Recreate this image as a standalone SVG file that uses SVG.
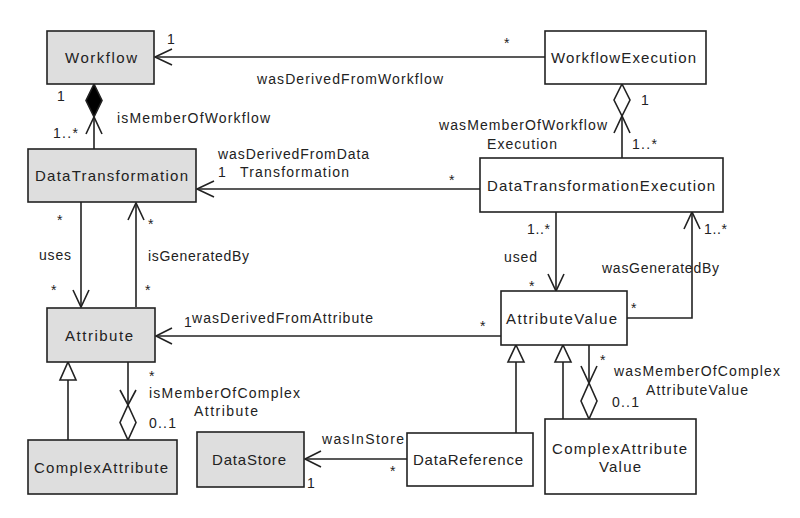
<svg xmlns="http://www.w3.org/2000/svg" width="800" height="518" viewBox="0 0 800 518">
<style>
.box{stroke:#222;stroke-width:1.6}
.g{fill:#dedede}
.w{fill:#fff}
.bl{font-family:"Liberation Sans",Arial,sans-serif;font-size:15px;fill:#222}
.el{font-family:"Liberation Sans",Arial,sans-serif;font-size:14px;fill:#222}
.ln{fill:none;stroke:#222;stroke-width:1.6}
.hd{fill:#fff;stroke:#222;stroke-width:1.6}
.fd{fill:#000;stroke:#222;stroke-width:1.6}
</style>
<rect width="800" height="518" fill="#fff"/>
<g id="connectors">
  <g id="wasDerivedFromWorkflow">
    <path class="ln" d="M545,57 H155"/>
    <path class="ln" d="M172,49 L155,57 L172,65"/>
  </g>
  <g id="isMemberOfWorkflow">
    <path class="ln" d="M94,149 V117"/>
    <path class="fd" d="M94,84 L102,100.5 L94,117 L86,100.5 Z"/>
    <path class="ln" d="M86,134 L94,117 L102,134"/>
  </g>
  <g id="wasDerivedFromDataTransformation">
    <path class="ln" d="M480,189 H197"/>
    <path class="ln" d="M214,181 L197,189 L214,197"/>
  </g>
  <g id="wasMemberOfWorkflowExecution">
    <path class="ln" d="M622,158 V116"/>
    <path class="hd" d="M622,84 L630,100 L622,116 L614,100 Z"/>
    <path class="ln" d="M614,133 L622,116 L630,133"/>
  </g>
  <g id="uses">
    <path class="ln" d="M81,202 V307"/>
    <path class="ln" d="M73,290 L81,307 L89,290"/>
  </g>
  <g id="isGeneratedBy">
    <path class="ln" d="M136,307 V203"/>
    <path class="ln" d="M128,220 L136,203 L144,220"/>
  </g>
  <g id="wasDerivedFromAttribute">
    <path class="ln" d="M501,336 H156"/>
    <path class="ln" d="M172,328 L156,336 L172,344"/>
  </g>
  <g id="used">
    <path class="ln" d="M556,212 V291"/>
    <path class="ln" d="M548,274 L556,291 L564,274"/>
  </g>
  <g id="wasGeneratedBy">
    <path class="ln" d="M627,318 H692 V212"/>
    <path class="ln" d="M684,229 L692,212 L700,229"/>
  </g>
  <g id="genComplexAttribute">
    <path class="ln" d="M68,440 V380"/>
    <path class="hd" d="M68,362 L76,380 L60,380 Z"/>
  </g>
  <g id="isMemberOfComplexAttribute">
    <path class="ln" d="M128,362 V405"/>
    <path class="ln" d="M120,390 L128,405 L136,390"/>
    <path class="hd" d="M128,405 L136,422.5 L128,440 L120,422.5 Z"/>
  </g>
  <g id="wasInStore">
    <path class="ln" d="M407,459 H305"/>
    <path class="ln" d="M321,451 L305,459 L321,467"/>
  </g>
  <g id="genDataReference">
    <path class="ln" d="M516,433 V362"/>
    <path class="hd" d="M516,345 L524,362 L508,362 Z"/>
  </g>
  <g id="genComplexAttributeValue">
    <path class="ln" d="M563,419 V362"/>
    <path class="hd" d="M563,345 L571,362 L555,362 Z"/>
  </g>
  <g id="wasMemberOfComplexAttributeValue">
    <path class="ln" d="M589,345 V383"/>
    <path class="ln" d="M581,366 L589,383 L597,366"/>
    <path class="hd" d="M589,383 L597,401 L589,419 L581,401 Z"/>
  </g>
</g>
<g id="edge-labels" class="el">
  <text x="167" y="44">1</text>
  <text x="504" y="48">*</text>
  <text x="257" y="84" textLength="186" lengthAdjust="spacing">wasDerivedFromWorkflow</text>
  <text x="57" y="101">1</text>
  <text x="117" y="123" textLength="153" lengthAdjust="spacing">isMemberOfWorkflow</text>
  <text x="53" y="138" textLength="25" lengthAdjust="spacing">1..*</text>
  <text x="218" y="159" textLength="151" lengthAdjust="spacing">wasDerivedFromData</text>
  <text x="240" y="177" textLength="109" lengthAdjust="spacing">Transformation</text>
  <text x="218" y="177">1</text>
  <text x="449" y="185">*</text>
  <text x="439" y="130" textLength="168" lengthAdjust="spacing">wasMemberOfWorkflow</text>
  <text x="487" y="149" textLength="70" lengthAdjust="spacing">Execution</text>
  <text x="641" y="105">1</text>
  <text x="632" y="149" textLength="25" lengthAdjust="spacing">1..*</text>
  <text x="57" y="225">*</text>
  <text x="39" y="260" textLength="32" lengthAdjust="spacing">uses</text>
  <text x="51" y="295">*</text>
  <text x="148" y="229">*</text>
  <text x="148" y="261" textLength="101" lengthAdjust="spacing">isGeneratedBy</text>
  <text x="145" y="295">*</text>
  <text x="184" y="327">1</text>
  <text x="192" y="323" textLength="181" lengthAdjust="spacing">wasDerivedFromAttribute</text>
  <text x="480" y="331">*</text>
  <text x="527" y="234" textLength="23" lengthAdjust="spacing">1..*</text>
  <text x="504" y="262" textLength="33" lengthAdjust="spacing">used</text>
  <text x="529" y="291">*</text>
  <text x="704" y="234" textLength="23" lengthAdjust="spacing">1..*</text>
  <text x="602" y="273" textLength="117" lengthAdjust="spacing">wasGeneratedBy</text>
  <text x="631" y="313">*</text>
  <text x="149" y="381">*</text>
  <text x="149" y="398" textLength="151" lengthAdjust="spacing">isMemberOfComplex</text>
  <text x="194" y="416" textLength="64" lengthAdjust="spacing">Attribute</text>
  <text x="149" y="428" textLength="27" lengthAdjust="spacing">0..1</text>
  <text x="322" y="444" textLength="82" lengthAdjust="spacing">wasInStore</text>
  <text x="390" y="476">*</text>
  <text x="307" y="488">1</text>
  <text x="600" y="365">*</text>
  <text x="614" y="376" textLength="166" lengthAdjust="spacing">wasMemberOfComplex</text>
  <text x="646" y="395" textLength="102" lengthAdjust="spacing">AttributeValue</text>
  <text x="612" y="407" textLength="27" lengthAdjust="spacing">0..1</text>
</g>
<g id="Workflow">
  <rect class="box g" x="47" y="31" width="107" height="53"/>
  <text class="bl" x="65" y="63" textLength="72" lengthAdjust="spacing">Workflow</text>
</g>
<g id="WorkflowExecution">
  <rect class="box w" x="545" y="31" width="161" height="53"/>
  <text class="bl" x="551" y="63" textLength="145" lengthAdjust="spacing">WorkflowExecution</text>
</g>
<g id="DataTransformation">
  <rect class="box g" x="28" y="149" width="168" height="53"/>
  <text class="bl" x="35" y="181" textLength="153" lengthAdjust="spacing">DataTransformation</text>
</g>
<g id="DataTransformationExecution">
  <rect class="box w" x="480" y="158" width="243" height="54"/>
  <text class="bl" x="487" y="190.5" textLength="228" lengthAdjust="spacing">DataTransformationExecution</text>
</g>
<g id="Attribute">
  <rect class="box g" x="47" y="308" width="108" height="54"/>
  <text class="bl" x="65" y="341" textLength="68" lengthAdjust="spacing">Attribute</text>
</g>
<g id="AttributeValue">
  <rect class="box w" x="501" y="291" width="126" height="54"/>
  <text class="bl" x="506" y="323.5" textLength="111" lengthAdjust="spacing">AttributeValue</text>
</g>
<g id="ComplexAttribute">
  <rect class="box g" x="28" y="440" width="149" height="54"/>
  <text class="bl" x="34" y="472.5" textLength="134" lengthAdjust="spacing">ComplexAttribute</text>
</g>
<g id="DataStore">
  <rect class="box g" x="197" y="432" width="107" height="55"/>
  <text class="bl" x="212" y="465" textLength="74" lengthAdjust="spacing">DataStore</text>
</g>
<g id="DataReference">
  <rect class="box w" x="407" y="433" width="126" height="53"/>
  <text class="bl" x="413" y="464.5" textLength="110" lengthAdjust="spacing">DataReference</text>
</g>
<g id="ComplexAttributeValue">
  <rect class="box w" x="545" y="419" width="151" height="75"/>
  <text class="bl" x="552" y="453.5" textLength="135" lengthAdjust="spacing">ComplexAttribute</text>
  <text class="bl" x="599" y="471.5" textLength="42" lengthAdjust="spacing">Value</text>
</g>
</svg>
